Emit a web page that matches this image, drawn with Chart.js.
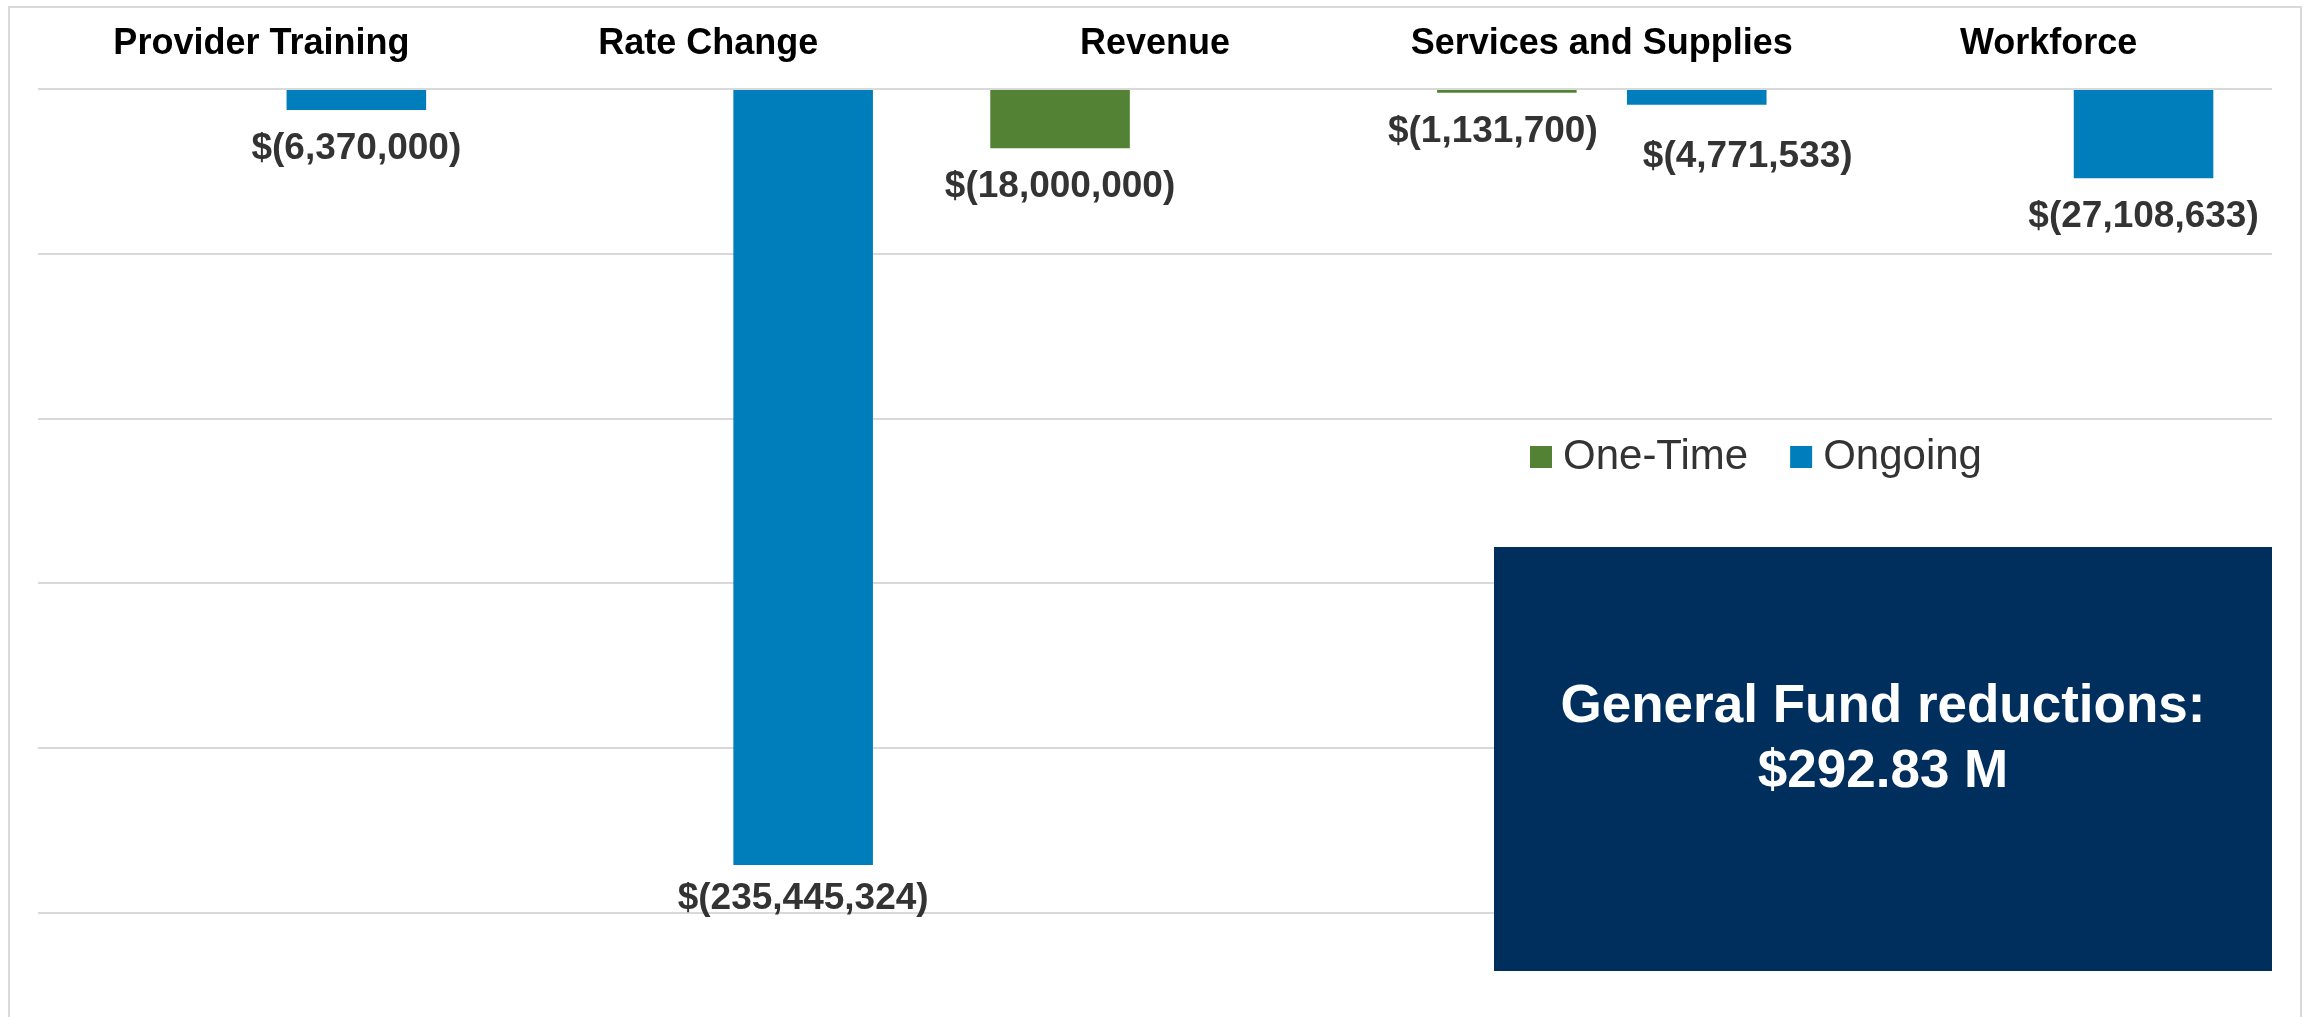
<!DOCTYPE html>
<html>
<head>
<meta charset="utf-8">
<script src="https://cdn.jsdelivr.net/npm/chart.js@4.4.1/dist/chart.umd.min.js"></script>
<style>
  html, body { margin: 0; padding: 0; background: #fff; overflow: hidden; }
  #wrap { position: relative; width: 2308px; height: 1017px; }
</style>
</head>
<body>
<div id="wrap"><canvas id="reductions"></canvas></div>
<script>
const categories = ['Provider Training', 'Rate Change', 'Revenue', 'Services and Supplies', 'Workforce']
const oneTime = [null, null, -18000000, -1131700, null]
const ongoing = [-6370000, -235445324, null, -4771533, -27108633]
const totalLabel = ['General Fund reductions:', '$292.83 M']

const FONT = "'Liberation Sans', Arial, sans-serif"

const money = function(v) {
  const s = Math.abs(v).toLocaleString('en-US')
  return v < 0 ? '$(' + s + ')' : '$' + s
}

// value labels under each bar end
const valueLabels = {
  id: 'valueLabels',
  afterDatasetsDraw(chart, args, opts) {
    const ctx = chart.ctx
    ctx.save()
    ctx.font = 'bold 37px ' + FONT
    ctx.fillStyle = '#333333'
    ctx.textAlign = 'center'
    ctx.textBaseline = 'alphabetic'
    chart.data.datasets.forEach(function(ds, di) {
      const meta = chart.getDatasetMeta(di)
      meta.data.forEach(function(bar, i) {
        const v = ds.data[i]
        if (v === null || v === undefined) return
        const nudge = (opts.nudge[di] && opts.nudge[di][i]) || [0, 0]
        ctx.fillText(money(v), bar.x + nudge[0], bar.y + 49 + nudge[1])
      })
    })
    ctx.restore()
  }
}

// legend + summary box inside the plot
const overlay = {
  id: 'overlay',
  beforeDraw(chart) {
    const ctx = chart.ctx
    ctx.save()
    ctx.strokeStyle = '#d9d9d9'
    ctx.lineWidth = 2
    ctx.strokeRect(9, 7, 2292, 1100)
    ctx.restore()
  },
  afterDraw(chart) {
    const ctx = chart.ctx
    ctx.save()
    // legend
    ctx.font = '42px ' + FONT
    ctx.textBaseline = 'middle'
    ctx.textAlign = 'left'
    let x = 1530
    chart.data.datasets.forEach(function(ds) {
      ctx.fillStyle = ds.backgroundColor
      ctx.fillRect(x, 446, 22, 22)
      ctx.fillStyle = '#333333'
      ctx.fillText(ds.label, x + 33, 457)
      x += 33 + ctx.measureText(ds.label).width + 42
    })
    // total box
    ctx.fillStyle = '#002f5e'
    ctx.fillRect(1494, 547, 778, 424)
    ctx.fillStyle = '#ffffff'
    ctx.font = 'bold 53px ' + FONT
    ctx.textAlign = 'center'
    ctx.textBaseline = 'alphabetic'
    ctx.fillText(totalLabel[0], 1883, 722)
    ctx.fillText(totalLabel[1], 1883, 787)
    ctx.restore()
  }
}

const ctxReductions = document.getElementById('reductions')
if(ctxReductions) {
  const reductions = {
    type: 'bar',
    data: {
      labels: categories,
      datasets: [
        {
          label: 'One-Time',
          backgroundColor: '#548235',
          data: oneTime,
        },
        {
          label: 'Ongoing',
          backgroundColor: '#007dbb',
          data: ongoing,
        },
      ],
    },
    options: {
      responsive: true,
      maintainAspectRatio: false,
      animation: false,
      categoryPercentage: 0.85,
      barPercentage: 0.735,
      layout: {
        padding: { left: 38, right: 36, top: 0, bottom: 104 }
      },
      plugins: {
        legend: { display: false },
        tooltip: { enabled: false },
        valueLabels: {
          nudge: {
            0: { 3: [-14, 0] },
            1: { 1: [0, -5], 3: [51, 13] }
          }
        }
      },
      scales: {
        x: {
          position: 'top',
          grid: { display: false, drawTicks: false },
          border: { display: false },
          ticks: {
            color: '#000000',
            padding: 23,
            font: { family: FONT, size: 36, weight: 'bold' },
            maxRotation: 0,
            autoSkip: false
          },
          afterFit: function(scale) { scale.height = 89 }
        },
        y: {
          min: -250000000,
          max: 0,
          grid: { color: '#d9d9d9', lineWidth: 2, drawTicks: false },
          border: { display: false },
          ticks: { display: false, stepSize: 50000000 },
          afterFit: function(scale) { scale.width = 0 }
        }
      }
    },
    plugins: [valueLabels, overlay]
  }

  window.myBar = new Chart(ctxReductions, reductions)
}
</script>
</body>
</html>
